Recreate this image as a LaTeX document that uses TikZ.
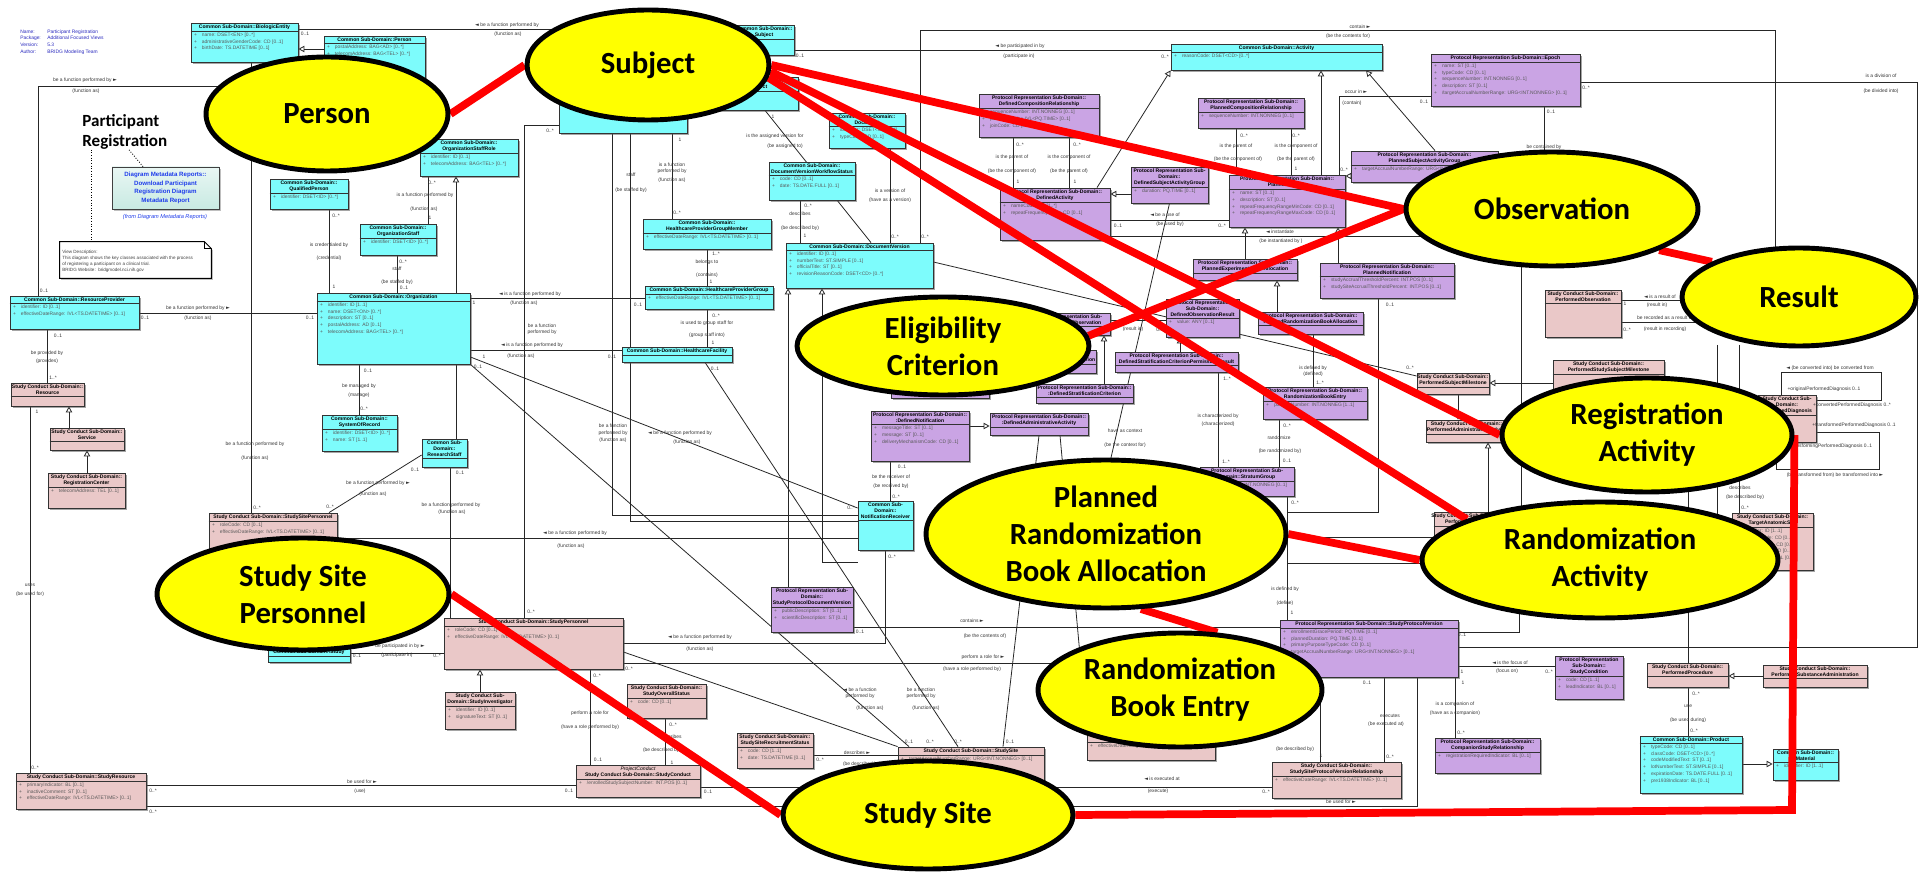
\documentclass[tikz,border=0pt]{standalone}
\usepackage{fontspec}
\setmainfont{Liberation Sans}
\newfontfamily\ellfont{Carlito}
\newfontfamily\flagfont{DejaVu Sans}
\usetikzlibrary{shapes.geometric,fit,shadows,arrows.meta}

\definecolor{clscyan}{RGB}{125,252,252}
\definecolor{clspurple}{RGB}{202,164,228}
\definecolor{clspink}{RGB}{234,200,200}
\definecolor{metablue}{RGB}{40,40,190}
\definecolor{linkblue}{RGB}{30,60,235}
\definecolor{linkfill}{RGB}{200,234,226}
\definecolor{ovalyellow}{RGB}{255,255,0}
\definecolor{hlred}{RGB}{255,0,0}

\pgfdeclarelayer{background}
\pgfdeclarelayer{wires}
\pgfdeclarelayer{redline}
\pgfdeclarelayer{front}
\pgfsetlayers{background,wires,main,redline,front}

\tikzset{
  cls/.style={draw=black!80, line width=0.45pt, inner sep=0pt,
    drop shadow={shadow xshift=0.9pt, shadow yshift=-0.9pt, opacity=0.5, fill=black!70}},
  cyancls/.style={cls, fill=clscyan},
  purplecls/.style={cls, fill=clspurple},
  pinkcls/.style={cls, fill=clspink},
  clstitle/.style={inner sep=0.8pt, align=center, font=\fontsize{2.9}{3.5}\selectfont\bfseries},
  clsattr/.style={inner xsep=1.8pt, inner ysep=0.8pt, align=left, text=black!65, font=\fontsize{2.8}{3.9}\selectfont},
  clsrule/.style={draw=black!80, line width=0.4pt},
  assoc/.style={draw=black!85, line width=0.45pt},
  gen/.style={assoc, -{Triangle[open, length=3.4pt, width=3.6pt]}},
  lbl/.style={inner sep=0pt, text=black!80, font=\fontsize{2.8}{3.2}\selectfont},
  oval/.style={ellipse, draw=black, line width=2.8pt, fill=ovalyellow, inner sep=0pt,
    align=center, font=\ellfont\bfseries\fontsize{17.5}{21}\selectfont},
  redlink/.style={draw=hlred, line width=4.4pt},
}

% one class box: name, corners (x1,y1) (x2,y2), style, title, attributes
\newcommand{\umlclass}[8]{%
  \node[#6, fit={(#2,#3) (#4,#5)}] (#1) {};
  \node[clstitle, anchor=north] (#1-t) at (#1.north) {#7};
  \draw[clsrule] (#1.west |- #1-t.south) -- (#1.east |- #1-t.south);
  \node[clsattr, anchor=north west] (#1-a) at (#1.west |- #1-t.south) {#8};}
\newcommand{\umlattr}[1]{+\hspace{0.1cm}#1}
\newcommand{\rolelbl}[4]{\node[lbl] (#1) at (#2,#3) {#4};}
\newcommand{\flagL}{{\flagfont ◄}}
\newcommand{\flagR}{{\flagfont ►}}

\begin{document}
\begin{tikzpicture}[x=0.02cm, y=-0.02cm]
\useasboundingbox (0,0) rectangle (1920,874);
\begin{pgfonlayer}{background}
  \fill[white] (0,0) rectangle (1920,874);
\end{pgfonlayer}

% diagram header
\node[anchor=north west, inner sep=0pt, text=metablue, font=\fontsize{2.8}{3.8}\selectfont] (meta) at (20,28)
  {\begin{tabular}{@{}p{0.54cm}@{}l@{}}Name: & Participant Registration\\ Package: & Additional Focused Views\\
   Version: & 5.3\\ Author: & BRIDG Modeling Team\end{tabular}};
\node[anchor=west, inner sep=0pt, align=left, font=\ellfont\bfseries\fontsize{9.7}{11.4}\selectfont] (prtitle) at (82,132) {Participant\\Registration};
\node[draw=black!75, line width=0.5pt, top color=linkfill!40!white, bottom color=linkfill, inner sep=0pt,
  fit={(112,167) (219,209)}, drop shadow={shadow xshift=0.9pt, shadow yshift=-0.9pt, opacity=0.5}] (linkbox) {};
\node[text=linkblue, align=center, font=\bfseries\fontsize{3.5}{5}\selectfont] (linktext) at (linkbox.center)
  {Diagram Metadata Reports::\\Download Participant\\Registration Diagram\\Metadata Report};
\node[text=linkblue, font=\itshape\fontsize{3.2}{4}\selectfont] (linkfrom) at (165,217) {(from Diagram Metadata Reports)};
\node[inner sep=0pt, fit={(60,242) (211,278)}] (viewnote) {};
\draw[fill=white, line width=0.5pt, drop shadow={shadow xshift=0.9pt, shadow yshift=-0.9pt, opacity=0.5}]
  (viewnote.south west) -- (viewnote.north west) -- ([xshift=-4pt]viewnote.north east)
  -- ([yshift=-4pt]viewnote.north east) -- (viewnote.south east) -- cycle;
\draw[line width=0.4pt] ([xshift=-4pt]viewnote.north east) -- ([xshift=-4pt, yshift=-4pt]viewnote.north east) -- ([yshift=-4pt]viewnote.north east);
\node[anchor=north west, inner sep=0pt, align=left, text=black!75, font=\fontsize{2.6}{3.4}\selectfont] (notetext) at (62,250)
  {View Description:\\This diagram shows the key classes associated with the process\\of registering a participant on a clinical trial.\\BRIDG Website:\ \ bridgmodel.nci.nih.gov};
\draw[densely dotted, line width=0.5pt] (prtitle.south -| 91,0) -- (viewnote.north -| 91,0);
\draw[densely dotted, line width=0.5pt] (prtitle.south -| 129,0) -- (linkbox.north -| 143,0);

% Common Sub-Domain
\umlclass{bioent}{191}{23}{298}{62}{cyancls}{Common Sub-Domain::BiologicEntity}{\umlattr{name: DSET<EN> [0..*]}\\ \umlattr{administrativeGenderCode: CD [0..1]}\\ \umlattr{birthDate: TS.DATETIME [0..1]}}
\umlclass{pers}{324}{36}{425}{86}{cyancls}{Common Sub-Domain::Person}{\umlattr{postalAddress: BAG<AD> [0..*]}\\ \umlattr{telecomAddress: BAG<TEL> [0..*]}}
\umlclass{qualpers}{270}{179}{348}{209}{cyancls}{Common Sub-Domain::\\QualifiedPerson}{\umlattr{identifier: DSET<ID> [0..*]}}
\umlclass{osr}{420}{139}{518}{176}{cyancls}{Common Sub-Domain::\\OrganizationStaffRole}{\umlattr{identifier: ID [0..1]}\\ \umlattr{telecomAddress: BAG<TEL> [0..*]}}
\umlclass{ostaff}{360}{224}{436}{255}{cyancls}{Common Sub-Domain::\\OrganizationStaff}{\umlattr{identifier: DSET<ID> [0..*]}}
\umlclass{org}{317}{293}{470}{364}{cyancls}{Common Sub-Domain::Organization}{\umlattr{identifier: ID [1..1]}\\ \umlattr{name: DSET<ON> [0..*]}\\ \umlattr{description: ST [0..1]}\\ \umlattr{postalAddress: AD [0..1]}\\ \umlattr{telecomAddress: BAG<TEL> [0..*]}}
\umlclass{sysrec}{322}{415}{397}{451}{cyancls}{Common Sub-Domain::\\SystemOfRecord}{\umlattr{identifier: DSET<ID> [0..*]}\\ \umlattr{name: ST [1..1]}}
\umlclass{rstaff}{422}{439}{467}{467}{cyancls}{Common Sub-\\Domain::\\ResearchStaff}{}
\umlclass{resprov}{10}{296}{139}{329}{cyancls}{Common Sub-Domain::ResourceProvider}{\umlattr{identifier: ID [0..1]}\\ \umlattr{effectiveDateRange: IVL<TS.DATETIME> [0..1]}}
\umlclass{subja}{559}{92}{687}{133}{cyancls}{}{\umlattr{}}
\umlclass{subjb}{734}{25}{794}{55}{cyancls}{Common Sub-Domain::\\Subject}{\umlattr{[0..1]}}
\umlclass{subjc}{718}{77}{798}{110}{cyancls}{Common Sub-Domain::\\Subject}{\umlattr{CD [0..1]}}
\umlclass{document}{829}{113}{905}{148}{cyancls}{Common Sub-Domain::\\Document}{\umlattr{identifier: DSET<ID> [1..*]}\\ \umlattr{typeCode: CD [0..1]}}
\umlclass{dvws}{769}{162}{855}{200}{cyancls}{Common Sub-Domain::\\DocumentVersionWorkflowStatus}{\umlattr{code: CD [0..1]}\\ \umlattr{date: TS.DATE.FULL [0..1]}}
\umlclass{hpgm}{643}{219}{771}{249}{cyancls}{Common Sub-Domain::\\HealthcareProviderGroupMember}{\umlattr{effectiveDateRange: IVL<TS.DATETIME> [0..1]}}
\umlclass{docver}{786}{243}{933}{288}{cyancls}{Common Sub-Domain::DocumentVersion}{\umlattr{identifier: ID [0..1]}\\ \umlattr{numberText: ST.SIMPLE [0..1]}\\ \umlattr{officialTitle: ST [0..1]}\\ \umlattr{revisionReasonCode: DSET<CD> [0..*]}}
\umlclass{hpg}{645}{286}{773}{309}{cyancls}{Common Sub-Domain::HealthcareProviderGroup}{\umlattr{effectiveDateRange: IVL<TS.DATETIME> [0..1]}}
\umlclass{hcf}{622}{347}{732}{362}{cyancls}{Common Sub-Domain::HealthcareFacility}{}
\umlclass{activity}{1171}{44}{1382}{70}{cyancls}{Common Sub-Domain::Activity}{\umlattr{reasonCode: DSET<CD> [0..*]}}
\umlclass{notifrcv}{858}{501}{913}{550}{cyancls}{Common Sub-\\Domain::\\NotificationReceiver}{}
\umlclass{study}{268}{648}{350}{662}{cyancls}{Common Sub-Domain::Study}{}
\umlclass{product}{1640}{736}{1742}{793}{cyancls}{Common Sub-Domain::Product}{\umlattr{typeCode: CD [0..1]}\\ \umlattr{classCode: DSET<CD> [0..*]}\\ \umlattr{codeModifiedText: ST [0..1]}\\ \umlattr{lotNumberText: ST.SIMPLE [0..1]}\\ \umlattr{expirationDate: TS.DATE.FULL [0..1]}\\ \umlattr{pre1938Indicator: BL [0..1]}}
\umlclass{material}{1773}{749}{1838}{780}{cyancls}{Common Sub-Domain::\\Material}{\umlattr{identifier: ID [1..1]}}

% Protocol Representation Sub-Domain
\umlclass{defcomp}{979}{94}{1099}{137}{purplecls}{Protocol Representation Sub-Domain::\\DefinedCompositionRelationship}{\umlattr{sequenceNumber: INT.NONNEG [0..1]}\\ \umlattr{pauseQuantity: IVL<PQ.TIME> [0..1]}\\ \umlattr{joinCode: CD [0..1]}}
\umlclass{plancomp}{1198}{98}{1304}{128}{purplecls}{Protocol Representation Sub-Domain::\\PlannedCompositionRelationship}{\umlattr{sequenceNumber: INT.NONNEG [0..1]}}
\umlclass{defact}{1000}{188}{1110}{240}{purplecls}{Protocol Representation Sub-Domain::\\DefinedActivity}{\umlattr{nameCode: CD [1..*]}\\ \umlattr{repeatFrequencyCode: CD [0..1]}}
\umlclass{defsag}{1131}{167}{1208}{203}{purplecls}{Protocol Representation Sub-\\Domain::\\DefinedSubjectActivityGroup}{\umlattr{duration: PQ.TIME [0..1]}}
\umlclass{planact}{1229}{175}{1345}{227}{purplecls}{Protocol Representation Sub-Domain::\\PlannedActivity}{\umlattr{name: ST [0..1]}\\ \umlattr{description: ST [0..1]}\\ \umlattr{repeatFrequencyRangeMinCode: CD [0..1]}\\ \umlattr{repeatFrequencyRangeMaxCode: CD [0..1]}}
\umlclass{plansag}{1351}{151}{1498}{182}{purplecls}{Protocol Representation Sub-Domain::\\PlannedSubjectActivityGroup}{\umlattr{targetAccrualNumberRange: URG<INT.NONNEG> [0..1]}}
\umlclass{epoch}{1431}{54}{1580}{106}{purplecls}{Protocol Representation Sub-Domain::Epoch}{\umlattr{name: ST [0..1]}\\ \umlattr{typeCode: CD [0..1]}\\ \umlattr{sequenceNumber: INT.NONNEG [0..1]}\\ \umlattr{description: ST [0..1]}\\ \umlattr{/targetAccrualNumberRange: URG<INT.NONNEG> [0..1]}}
\umlclass{plannotif}{1320}{263}{1454}{298}{purplecls}{Protocol Representation Sub-Domain::\\PlannedNotification}{\umlattr{studyAccrualThresholdPercent: INT.POS [0..1]}\\ \umlattr{studySiteAccrualThresholdPercent: INT.POS [0..1]}}
\umlclass{planeua}{1193}{259}{1297}{280}{purplecls}{Protocol Representation Sub-Domain::\\PlannedExperimentalUnitAllocation}{}
\umlclass{defobsres}{1166}{299}{1239}{337}{purplecls}{Protocol Representation\\Sub-Domain::\\DefinedObservationResult}{\umlattr{value: ANY [0..1]}}
\umlclass{planrba}{1258}{312}{1363}{334}{purplecls}{Protocol Representation Sub-Domain::\\PlannedRandomizationBookAllocation}{}
\umlclass{defobs}{1022}{313}{1110}{335}{purplecls}{Protocol Representation Sub-\\Domain::DefinedObservation}{}
\umlclass{defelig}{1010}{350}{1096}{373}{purplecls}{Protocol Representation Sub-\\Domain::DefinedEligibilityCriterion}{}
\umlclass{defscpr}{1115}{352}{1238}{372}{purplecls}{Protocol Representation Sub-Domain::\\DefinedStratificationCriterionPermissibleResult}{}
\umlclass{defsc}{1036}{384}{1133}{403}{purplecls}{Protocol Representation Sub-Domain::\\:DefinedStratificationCriterion}{}
\umlclass{defnotif}{871}{411}{969}{461}{purplecls}{Protocol Representation Sub-Domain::\\:DefinedNotification}{\umlattr{messageTitle: ST [0..1]}\\ \umlattr{message: ST [0..1]}\\ \umlattr{deliveryMechanismCode: CD [0..1]}}
\umlclass{defaa}{990}{413}{1088}{435}{purplecls}{Protocol Representation Sub-Domain::\\:DefinedAdministrativeActivity}{}
\umlclass{defhid}{891}{380}{989}{398}{purplecls}{}{}
\umlclass{rbebox}{1263}{387}{1367}{419}{purplecls}{Protocol Representation Sub-Domain::\\RandomizationBookEntry}{\umlattr{positionNumber: INT.NONNEG [1..1]}}
\umlclass{stratum}{1200}{467}{1294}{496}{purplecls}{Protocol Representation Sub-\\Domain::StratumGroup}{\umlattr{groupNumber: INT.NONNEG [0..1]}}
\umlclass{spv}{1280}{620}{1458}{677}{purplecls}{Protocol Representation Sub-Domain::StudyProtocolVersion}{\umlattr{enrollmentGracePeriod: PQ.TIME [0..1]}\\ \umlattr{plannedDuration: PQ.TIME [0..1]}\\ \umlattr{primaryPurposeTypeCode: CD [0..1]}\\ \umlattr{targetAccrualNumberRange: URG<INT.NONNEG> [0..1]}}
\umlclass{scond}{1555}{656}{1623}{699}{purplecls}{Protocol Representation\\Sub-Domain::\\StudyCondition}{\umlattr{code: CD [1..1]}\\ \umlattr{leadIndicator: BL [0..1]}}
\umlclass{compstudy}{1435}{738}{1540}{773}{purplecls}{Protocol Representation Sub-Domain::\\CompanionStudyRelationship}{\umlattr{registrationRequiredIndicator: BL [0..1]}}
\umlclass{spdv}{771}{587}{853}{632}{purplecls}{Protocol Representation Sub-\\Domain::\\StudyProtocolDocumentVersion}{\umlattr{publicDescription: ST [0..1]}\\ \umlattr{scientificDescription: ST [0..1]}}

% Study Conduct Sub-Domain
\umlclass{resource}{11}{383}{84}{406}{pinkcls}{Study Conduct Sub-Domain::\\Resource}{}
\umlclass{service}{50}{428}{124}{450}{pinkcls}{Study Conduct Sub-Domain::\\Service}{}
\umlclass{regcenter}{48}{473}{125}{508}{pinkcls}{Study Conduct Sub-Domain::\\RegistrationCenter}{\umlattr{telecomAddress: TEL [0..1]}}
\umlclass{sspers}{209}{513}{337}{560}{pinkcls}{Study Conduct Sub-Domain::StudySitePersonnel}{\umlattr{roleCode: CD [0..1]}\\ \umlattr{effectiveDateRange: IVL<TS.DATETIME> [0..1]}}
\umlclass{spers}{444}{618}{623}{669}{pinkcls}{Study Conduct Sub-Domain::StudyPersonnel}{\umlattr{roleCode: CD [0..1]}\\ \umlattr{effectiveDateRange: IVL<TS.DATETIME> [0..1]}}
\umlclass{sinv}{445}{692}{515}{729}{pinkcls}{Study Conduct Sub-\\Domain::StudyInvestigator}{\umlattr{identifier: ID [0..1]}\\ \umlattr{signatureText: ST [0..1]}}
\umlclass{sres}{16}{773}{146}{809}{pinkcls}{Study Conduct Sub-Domain::StudyResource}{\umlattr{primaryIndicator: BL [0..1]}\\ \umlattr{inactiveComment: ST [0..1]}\\ \umlattr{effectiveDateRange: IVL<TS.DATETIME> [0..1]}}
\umlclass{sconduct}{576}{765}{700}{797}{pinkcls}{{\mdseries\itshape ProjectConduct}\\Study Conduct Sub-Domain::StudyConduct}{\umlattr{/enrolledStudySubjectNumber: INT.POS [0..1]}}
\umlclass{sos}{627}{684}{706}{718}{pinkcls}{Study Conduct Sub-Domain::\\StudyOverallStatus}{\umlattr{code: CD [0..1]}}
\umlclass{ssrs}{737}{733}{813}{768}{pinkcls}{Study Conduct Sub-Domain::\\StudySiteRecruitmentStatus}{\umlattr{code: CD [1..1]}\\ \umlattr{date: TS.DATETIME [0..1]}}
\umlclass{ssite}{898}{747}{1044}{788}{pinkcls}{Study Conduct Sub-Domain::StudySite}{\umlattr{targetAccrualNumberRange: URG<INT.NONNEG> [0..1]}}
\umlclass{ssubpvr}{1087}{728}{1215}{760}{pinkcls}{Study Conduct Sub-Domain::\\StudySubjectProtocolVersionRelationship}{\umlattr{effectiveDateRange: IVL<TS.DATETIME> [0..1]}}
\umlclass{sspvr}{1272}{762}{1401}{798}{pinkcls}{Study Conduct Sub-Domain::\\StudySiteProtocolVersionRelationship}{\umlattr{effectiveDateRange: IVL<TS.DATETIME> [0..1]}}
\umlclass{psm}{1417}{373}{1489}{394}{pinkcls}{Study Conduct Sub-Domain::\\PerformedSubjectMilestone}{}
\umlclass{paa}{1426}{420}{1507}{442}{pinkcls}{Study Conduct Sub-Domain::\\PerformedAdministrativeActivity}{}
\umlclass{pssm}{1553}{360}{1664}{392}{pinkcls}{Study Conduct Sub-Domain::\\PerformedStudySubjectMilestone}{}
\umlclass{pact}{1434}{512}{1500}{540}{pinkcls}{Study Conduct Sub-Domain::\\PerformedActivity}{}
\umlclass{pobs}{1545}{290}{1621}{337}{pinkcls}{Study Conduct Sub-Domain::\\PerformedObservation}{}
\umlclass{pdiag}{1758}{395}{1816}{442}{pinkcls}{Study Conduct Sub-\\Domain::\\PerformedDiagnosis}{}
\umlclass{tas}{1732}{513}{1813}{570}{pinkcls}{Study Conduct Sub-Domain::\\TargetAnatomicSite}{\umlattr{identifier: ID [1..1]}\\ \umlattr{locationCode: CD [0..1]}\\ \umlattr{lateralityCode: CD [0..1]}\\ \umlattr{methodCode: CD [0..1]}\\ \umlattr{targetIndicator: BL [0..1]}}
\umlclass{pproc}{1647}{663}{1728}{687}{pinkcls}{Study Conduct Sub-Domain::\\PerformedProcedure}{}
\umlclass{psubadm}{1763}{665}{1867}{687}{pinkcls}{Study Conduct Sub-Domain::\\PerformedSubstanceAdministration}{}

% free ends of connectors
\coordinate (contend) at (1775,250);
\coordinate (rightframe) at (1917,82);
\coordinate (epochend) at (1544,165);
\coordinate (instend) at (1430,236);
\coordinate (stratumjoin) at (1287,512);
\coordinate (sgline1) at (1287,537);
\coordinate (sgline2) at (1287,563);
\coordinate (resA) at (1700,300);
\coordinate (resB) at (1705,322);
\coordinate (procup) at (1688,460);
\coordinate (spvup) at (1519,600);
\coordinate (tasup) at (1739,345);
\coordinate (vertA) at (1717,345);
\coordinate (vertB) at (1521,182);
\coordinate (dgA) at (1881,372);
\coordinate (dgB) at (1879,469);
\coordinate (ctxend) at (1110,462);

\begin{pgfonlayer}{wires}
  \draw[assoc] (bioent.east |- 0,29) -- (subjb.west |- 0,29);
  \draw[gen] (pers.west |- 0,49) -- (bioent.east |- 0,49);
  \draw[assoc] (resprov.north -| 38,0) |- (pers.south west);
  \draw[assoc] (bioent.south -| 251,0) -- (sspers.north -| 251,0);
  \draw[assoc] (resprov.east |- 0,313) -- (org.west |- 0,313);
  \draw[assoc] (resprov.south -| 47,0) -- (resource.north -| 47,0);
  \draw[gen] (service.north -| 69,0) -- (resource.south -| 69,0);
  \draw[gen] (regcenter.north -| 87,0) -- (service.south -| 87,0);
  \draw[assoc] (resource.south -| 30,0) -- (sres.north -| 30,0);
  \draw[assoc] (sres.east |- 0,785) -- (sconduct.west |- 0,785);
  \draw[assoc] (sres.east |- 0,806) -| (spv.south -| 1417,0);
  \draw[assoc] (org.south -| 359,0) -- (sysrec.north -| 359,0);
  \draw[assoc] (ostaff.south -| 397,0) -- (org.north -| 397,0);
  \draw[assoc] (ostaff.north -| 428,0) -- (osr.south -| 428,0);
  \draw[assoc] (qualpers.south -| 329,0) -- (org.north -| 329,0);
  \draw[gen] (rstaff.north -| 456,0) -- (osr.south -| 456,0);
  \draw[assoc] (rstaff.west |- 0,455) -- (sspers.north -| 329,0);
  \draw[assoc] (rstaff.south -| 450,0) -- (spers.north -| 450,0);
  \draw[assoc] (sspers.east |- 0,538) -- (notifrcv.west |- 0,538);
  \draw[assoc] (org.east |- 0,298) -- (hpg.west |- 0,298);
  \draw[assoc] (org.east |- 0,350) -- (hcf.west |- 0,350);
  \draw[assoc] (org.south east |- 0,357) -- (notifrcv.west |- 0,508);
  \draw[assoc] (org.south east) -- (ssite.north -| 909,0);
  \draw[assoc] (subja.west |- 0,125) -| (spers.north -| 524,0);
  \draw[assoc] (subja.south -| 612,0) |- (notifrcv.west |- 0,515);
  \draw[assoc] (subja.south -| 630,0) |- (notifrcv.west |- 0,521);
  \draw[assoc] (subja.south -| 672,0) -- (hpgm.north -| 672,0);
  \draw[assoc] (hpgm.south -| 707,0) -- (hpg.north -| 707,0);
  \draw[assoc] (hpg.south -| 707,0) -- (hcf.north -| 707,0);
  \draw[assoc] (hcf.south -| 705,0) -- (ssite.north -| 958,0);
  \draw[assoc] (subjc.south -| 765,0) -- (docver.north -| 871,0);
  \draw[assoc] (document.south -| 890,0) -- (docver.north -| 890,0);
  \draw[assoc] (dvws.south -| 800,0) -- (docver.north -| 800,0);
  \draw[assoc] (docver.north -| 920,0) -- ++(0,-212) -| (contend);
  \draw[gen] (spdv.north -| 788,0) -- (docver.south -| 788,0);
  \draw[gen] (notifrcv.south west |- 0,562) -| (docver.south -| 822,0);
  \draw[assoc] (defnotif.south -| 890,0) -- (notifrcv.north -| 890,0);
  \draw[gen] (defnotif.east |- 0,426) -- (defaa.west |- 0,426);
  \draw[assoc] (notifrcv.south -| 885,0) |- (spers.east |- 0,643);
  \draw[assoc] (study.east |- 0,653) -- (spers.west |- 0,653);
  \draw[gen] (sinv.north -| 480,0) -- (spers.south -| 480,0);
  \draw[assoc] (spers.south -| 590,0) -- (sconduct.north -| 590,0);
  \draw[assoc] (spers.east |- 0,663) -- (spv.west |- 0,663);
  \draw[assoc] (spers.east |- 0,652) -- (ssite.north west);
  \draw[assoc] (spdv.east |- 0,627) -- (spv.west |- 0,627);
  \draw[assoc] (sconduct.east |- 0,787) -- (sspvr.west |- 0,787);
  \draw[assoc] (ssrs.east |- 0,755) -- (ssite.west |- 0,755);
  \draw[assoc] (sos.south -| 665,0) -- (sconduct.north -| 665,0);
  \draw[assoc] (defaa.south) -- (ssite.north -| 1003,0);
  \draw[assoc] (defaa.south -| 1060,0) -- (ssubpvr.north west);
  \draw[assoc] (subjb.east |- 0,50) -- (activity.west |- 0,50);
  \draw[assoc] (defcomp.south -| 1013,0) -- (defact.north -| 1013,0);
  \draw[assoc] (defcomp.south -| 1069,0) -- (defact.north -| 1069,0);
  \draw[assoc] (plancomp.south -| 1236,0) -- (planact.north -| 1236,0);
  \draw[assoc] (plancomp.south -| 1291,0) -- (planact.north -| 1291,0);
  \draw[gen] (defsag.west |- 0,194) -- (defact.east |- 0,194);
  \draw[gen] (plansag.west |- 0,176) -- (planact.east |- 0,176);
  \draw[assoc] (defact.east |- 0,220) -- (planact.west |- 0,220);
  \draw[assoc] (defact.east |- 0,236) -- (instend);
  \draw[gen] (defact.north -| 1097,0) -- (activity.south west);
  \draw[gen] (plansag.north -| 1435,0) -- (activity.south -| 1366,0);
  \draw[gen] (planact.north -| 1321,0) -- (activity.south -| 1321,0);
  \draw[assoc] (epoch.west |- 0,96) -| (planact.north east -| 1339,0);
  \draw[assoc] (epoch.south -| 1544,0) -- (epochend);
  \draw[assoc] (epoch.east |- 0,82) -- (rightframe) |- (spv.east |- 0,647);
  \draw[gen] (planeua.north -| 1245,0) -- (planact.south -| 1245,0);
  \draw[gen] (plannotif.north -| 1338,0) -- (planact.south -| 1338,0);
  \draw[gen] (planrba.north -| 1277,0) -- (planeua.south -| 1277,0);
  \draw[gen] (defscpr.north -| 1180,0) -- (defobsres.south -| 1180,0);
  \draw[gen] (defsc.north -| 1104,0) -- (defobs.south -| 1104,0);
  \draw[assoc] (defobs.east |- 0,320) -- (defobsres.west |- 0,320);
  \draw[assoc] (ctxend) -- (defsag.south);
  \draw[assoc] (rbebox.north -| 1313,0) -- (planrba.south -| 1313,0);
  \draw[assoc] (rbebox.south -| 1279,0) -- (stratum.north -| 1279,0);
  \draw[assoc] (defscpr.south -| 1218,0) -- (stratum.north -| 1218,0);
  \draw[assoc] (stratum.south -| 1287,0) -- (spv.north -| 1287,0);
  \draw[assoc] (plannotif.south -| 1378,0) |- (stratumjoin);
  \draw[assoc] (sgline1) -- (pact.west |- sgline1);
  \draw[assoc] (sgline2) -- (pact.south west |- sgline2);
  \draw[assoc] (docver.east |- 0,262) -- (psm.west |- 0,376);
  \draw[gen] (psm.south -| 1458,0) -- (paa.north -| 1458,0);
  \draw[gen] (pact.north -| 1488,0) -- (paa.south -| 1488,0);
  \draw[gen] (pssm.west |- 0,383) -- (psm.east |- 0,383);
  \draw[assoc] (vertB) -- (pact.north -| 1521,0);
  \draw[assoc] (pobs.east |- 0,300) -- (resA);
  \draw[assoc] (pobs.east |- 0,322) -- (resB);
  \draw[assoc] (procup) -- (pproc.north -| 1688,0);
  \draw[gen] (psubadm.west |- 0,676) -- (pproc.east |- 0,676);
  \draw[assoc] (pproc.south -| 1688,0) -- (product.north -| 1688,0);
  \draw[gen] (product.east |- 0,764) -- (material.west |- 0,764);
  \draw[assoc] (spv.south -| 1455,0) -- (compstudy.north -| 1455,0);
  \draw[assoc] (spv.east |- 0,666) -- (scond.west |- 0,666);
  \draw[assoc] (spv.east |- 0,632) -| (spvup);
  \draw[assoc] (spv.south -| 1320,0) -- (sspvr.north -| 1320,0);
  \draw[assoc] (spv.south -| 1384,0) -- (sspvr.north -| 1384,0);
  \draw[assoc] (pdiag.north -| 1781,0) |- (dgA) |- (pdiag.east |- 0,400);
  \draw[assoc] (pdiag.east |- 0,432) -| (dgB) -| (pdiag.south -| 1776,0);
  \draw[assoc] (tasup) -- (tas.north -| 1739,0);
  \draw[assoc] (vertA) -- (tas.west -| 1717,0);
\end{pgfonlayer}

% role names and multiplicities
\rolelbl{r1}{507}{25}{\flagL\ be a function performed by}
\rolelbl{r2}{508}{34}{(function as)}
\rolelbl{r3}{305}{34}{0..1}
\rolelbl{r4}{85}{80}{be a function performed by \flagR}
\rolelbl{r5}{86}{91}{(function as)}
\rolelbl{r6}{44}{291}{0..1}
\rolelbl{r7}{255}{444}{be a function performed by}
\rolelbl{r8}{255}{458}{(function as)}
\rolelbl{r9}{257}{508}{0..*}
\rolelbl{r10}{198}{308}{be a function performed by \flagR}
\rolelbl{r11}{198}{318}{(function as)}
\rolelbl{r12}{145}{318}{0..1}
\rolelbl{r13}{310}{318}{0..1}
\rolelbl{r14}{58}{336}{0..1}
\rolelbl{r15}{47}{353}{be provided by}
\rolelbl{r16}{47}{361}{(provides)}
\rolelbl{r17}{53}{378}{1..*}
\rolelbl{r18}{37}{412}{1}
\rolelbl{r19}{30}{585}{uses}
\rolelbl{r20}{30}{594}{(be used for)}
\rolelbl{r21}{35}{768}{0..*}
\rolelbl{r22}{362}{782}{be used for \flagR}
\rolelbl{r23}{360}{791}{(use)}
\rolelbl{r24}{153}{791}{0..*}
\rolelbl{r25}{569}{791}{0..1}
\rolelbl{r26}{153}{812}{0..*}
\rolelbl{r27}{1341}{802}{be used for \flagR}
\rolelbl{r28}{368}{371}{0..1}
\rolelbl{r29}{359}{386}{be managed by}
\rolelbl{r30}{359}{395}{(manage)}
\rolelbl{r31}{364}{409}{0..*}
\rolelbl{r32}{403}{262}{0..*}
\rolelbl{r33}{397}{269}{staff}
\rolelbl{r34}{397}{282}{(be staffed by)}
\rolelbl{r35}{404}{288}{0..1}
\rolelbl{r36}{432}{183}{0..*}
\rolelbl{r37}{425}{195}{is a function performed by}
\rolelbl{r38}{424}{209}{(function as)}
\rolelbl{r39}{430}{218}{1}
\rolelbl{r40}{336}{216}{0..*}
\rolelbl{r41}{329}{245}{is credentialed by}
\rolelbl{r42}{329}{258}{(credential)}
\rolelbl{r43}{334}{287}{1}
\rolelbl{r44}{415}{470}{0..1}
\rolelbl{r45}{378}{483}{be a function performed by \flagR}
\rolelbl{r46}{373}{494}{(function as)}
\rolelbl{r47}{330}{507}{0..*}
\rolelbl{r48}{460}{473}{0..1}
\rolelbl{r49}{451}{505}{be a function performed by}
\rolelbl{r50}{452}{512}{(function as)}
\rolelbl{r51}{575}{533}{\flagL\ be a function performed by}
\rolelbl{r52}{571}{546}{(function as)}
\rolelbl{r53}{530}{294}{\flagL\ is a function performed by}
\rolelbl{r54}{524}{303}{(function as)}
\rolelbl{r55}{474}{303}{1}
\rolelbl{r56}{638}{305}{0..1}
\rolelbl{r57}{532}{345}{\flagL\ is a function performed by}
\rolelbl{r58}{521}{356}{(function as)}
\rolelbl{r59}{484}{357}{1}
\rolelbl{r60}{612}{357}{0..1}
\rolelbl{r61}{542}{326}{be a function}
\rolelbl{r62}{542}{332}{performed by}
\rolelbl{r63}{680}{433}{\flagL\ be a function performed by}
\rolelbl{r64}{687}{442}{(function as)}
\rolelbl{r65}{478}{367}{0..1}
\rolelbl{r66}{613}{426}{be a function}
\rolelbl{r67}{613}{433}{performed by}
\rolelbl{r68}{613}{440}{(function as)}
\rolelbl{r69}{550}{131}{0..*}
\rolelbl{r70}{531}{612}{0..*}
\rolelbl{r71}{631}{175}{staff}
\rolelbl{r72}{631}{190}{(be staffed by)}
\rolelbl{r73}{680}{140}{1}
\rolelbl{r74}{672}{165}{is a function}
\rolelbl{r75}{672}{171}{performed by}
\rolelbl{r76}{672}{180}{(function as)}
\rolelbl{r77}{677}{213}{0..*}
\rolelbl{r78}{716}{254}{1..*}
\rolelbl{r79}{707}{262}{belongs to}
\rolelbl{r80}{707}{275}{(contains)}
\rolelbl{r81}{711}{282}{1}
\rolelbl{r82}{716}{316}{0..*}
\rolelbl{r83}{707}{323}{is used to group staff for}
\rolelbl{r84}{707}{335}{(group staff into)}
\rolelbl{r85}{713}{343}{1}
\rolelbl{r86}{715}{369}{0..1}
\rolelbl{r87}{773}{117}{1}
\rolelbl{r88}{775}{136}{is the assigned version for}
\rolelbl{r89}{785}{146}{(be assigned to)}
\rolelbl{r90}{890}{191}{is a version of}
\rolelbl{r91}{890}{200}{(have as a version)}
\rolelbl{r92}{895}{237}{0..*}
\rolelbl{r93}{808}{206}{0..*}
\rolelbl{r94}{800}{214}{describes}
\rolelbl{r95}{800}{228}{(be described by)}
\rolelbl{r96}{805}{236}{1}
\rolelbl{r97}{1360}{27}{contain \flagR}
\rolelbl{r98}{1348}{36}{(be the contents for)}
\rolelbl{r99}{925}{237}{0..*}
\rolelbl{r100}{902}{467}{0..1}
\rolelbl{r101}{891}{477}{be the receiver of}
\rolelbl{r102}{891}{486}{(be received by)}
\rolelbl{r103}{896}{497}{0..*}
\rolelbl{r104}{851}{508}{0..*}
\rolelbl{r105}{892}{557}{0..*}
\rolelbl{r106}{700}{637}{\flagL\ be a function performed by}
\rolelbl{r107}{700}{649}{(function as)}
\rolelbl{r108}{400}{646}{be participated in by \flagR}
\rolelbl{r109}{397}{655}{(participate in)}
\rolelbl{r110}{357}{656}{0..1}
\rolelbl{r111}{437}{656}{0..*}
\rolelbl{r112}{597}{676}{0..*}
\rolelbl{r113}{590}{713}{perform a role for}
\rolelbl{r114}{590}{727}{(have a role performed by)}
\rolelbl{r115}{598}{760}{0..1}
\rolelbl{r116}{983}{657}{perform a role for \flagR}
\rolelbl{r117}{972}{669}{(have a role performed by)}
\rolelbl{r118}{629}{669}{0..*}
\rolelbl{r119}{972}{621}{contains \flagR}
\rolelbl{r120}{985}{636}{(be the contents of)}
\rolelbl{r121}{860}{632}{0..1}
\rolelbl{r122}{1162}{779}{\flagL\ is executed at}
\rolelbl{r123}{1158}{791}{(execute)}
\rolelbl{r124}{708}{792}{0..1}
\rolelbl{r125}{1266}{792}{0..*}
\rolelbl{r126}{857}{753}{describes \flagR}
\rolelbl{r127}{862}{764}{(be described by)}
\rolelbl{r128}{820}{760}{0..*}
\rolelbl{r129}{673}{725}{0..*}
\rolelbl{r130}{671}{737}{describes}
\rolelbl{r131}{662}{750}{(be described by)}
\rolelbl{r132}{672}{763}{1}
\rolelbl{r133}{860}{690}{\flagL\ be a function}
\rolelbl{r134}{860}{696}{performed by}
\rolelbl{r135}{870}{708}{(function as)}
\rolelbl{r136}{921}{690}{be a function}
\rolelbl{r137}{921}{696}{performed by}
\rolelbl{r138}{926}{708}{(function as)}
\rolelbl{r139}{909}{742}{0..1}
\rolelbl{r140}{930}{742}{0..*}
\rolelbl{r141}{958}{742}{0..*}
\rolelbl{r142}{1010}{742}{0..1}
\rolelbl{r143}{1020}{46}{\flagL\ be participated in by}
\rolelbl{r144}{1019}{56}{(participate in)}
\rolelbl{r145}{800}{56}{0..1}
\rolelbl{r146}{1165}{57}{0..*}
\rolelbl{r147}{1020}{145}{0..*}
\rolelbl{r148}{1012}{157}{is the parent of}
\rolelbl{r149}{1012}{171}{(be the component of)}
\rolelbl{r150}{1018}{182}{1}
\rolelbl{r151}{1077}{145}{0..*}
\rolelbl{r152}{1069}{157}{is the component of}
\rolelbl{r153}{1069}{171}{(be the parent of)}
\rolelbl{r154}{1075}{182}{1}
\rolelbl{r155}{1244}{136}{0..*}
\rolelbl{r156}{1236}{146}{is the parent of}
\rolelbl{r157}{1238}{159}{(be the component of)}
\rolelbl{r158}{1296}{136}{0..*}
\rolelbl{r159}{1296}{146}{is the component of}
\rolelbl{r160}{1296}{159}{(be the parent of)}
\rolelbl{r161}{1296}{169}{1}
\rolelbl{r162}{1165}{215}{\flagL\ be a use of}
\rolelbl{r163}{1170}{224}{(be used by)}
\rolelbl{r164}{1118}{226}{0..1}
\rolelbl{r165}{1222}{226}{0..*}
\rolelbl{r166}{1280}{232}{\flagL\ instantiate}
\rolelbl{r167}{1281}{241}{(be instantiated by )}
\rolelbl{r168}{1356}{92}{occur in \flagR}
\rolelbl{r169}{1352}{103}{(contain)}
\rolelbl{r170}{1424}{102}{0..1}
\rolelbl{r171}{1344}{170}{0..*}
\rolelbl{r172}{1551}{112}{0..1}
\rolelbl{r173}{1544}{147}{be contained by}
\rolelbl{r174}{1881}{76}{is a division of}
\rolelbl{r175}{1881}{91}{(be divided into)}
\rolelbl{r176}{1586}{88}{0..*}
\rolelbl{r177}{1133}{329}{(result in)}
\rolelbl{r178}{1160}{330}{0..*}
\rolelbl{r179}{1125}{431}{have as context}
\rolelbl{r180}{1125}{445}{(be the context for)}
\rolelbl{r181}{1313}{368}{is defined by}
\rolelbl{r182}{1313}{374}{(defined)}
\rolelbl{r183}{1320}{383}{1..*}
\rolelbl{r184}{1287}{426}{0..*}
\rolelbl{r185}{1279}{438}{randomize}
\rolelbl{r186}{1280}{451}{(be randomized by)}
\rolelbl{r187}{1287}{461}{0..1}
\rolelbl{r188}{1227}{379}{1..*}
\rolelbl{r189}{1218}{416}{is characterized by}
\rolelbl{r190}{1218}{424}{(characterized)}
\rolelbl{r191}{1226}{462}{1..*}
\rolelbl{r192}{1295}{503}{0..*}
\rolelbl{r193}{1285}{589}{is defined by}
\rolelbl{r194}{1285}{603}{(define)}
\rolelbl{r195}{1292}{613}{1}
\rolelbl{r196}{1390}{305}{0..1}
\rolelbl{r197}{1410}{368}{0..*}
\rolelbl{r198}{1660}{297}{\flagL\ is a result of}
\rolelbl{r199}{1657}{305}{(result in)}
\rolelbl{r200}{1625}{304}{1}
\rolelbl{r201}{1665}{318}{be recorded as a result of}
\rolelbl{r202}{1665}{329}{(result in recording)}
\rolelbl{r203}{1627}{330}{0..*}
\rolelbl{r204}{1696}{694}{0..*}
\rolelbl{r205}{1688}{706}{use}
\rolelbl{r206}{1688}{720}{(be used during)}
\rolelbl{r207}{1694}{731}{0..*}
\rolelbl{r208}{1463}{683}{1}
\rolelbl{r209}{1455}{704}{is a companion of}
\rolelbl{r210}{1455}{713}{(have as a companion)}
\rolelbl{r211}{1461}{733}{0..*}
\rolelbl{r212}{1510}{663}{\flagL\ is the focus of}
\rolelbl{r213}{1507}{671}{(focus on)}
\rolelbl{r214}{1462}{672}{1}
\rolelbl{r215}{1549}{672}{0..*}
\rolelbl{r216}{1462}{635}{0..1}
\rolelbl{r217}{1295}{749}{(be described by)}
\rolelbl{r218}{1321}{756}{1}
\rolelbl{r219}{1390}{716}{executes}
\rolelbl{r220}{1386}{724}{(be executed at)}
\rolelbl{r221}{1390}{757}{0..*}
\rolelbl{r222}{1367}{683}{0..1}
\rolelbl{r223}{1830}{368}{\flagL\ (be converted into) be converted from}
\rolelbl{r224}{1824}{389}{+originalPerformedDiagnosis 0..1}
\rolelbl{r225}{1852}{405}{+convertedPerformedDiagnosis 0..*}
\rolelbl{r226}{1854}{425}{+transformedPerformedDiagnosis 0..1}
\rolelbl{r227}{1830}{446}{+transformingPerformedDiagnosis 0..1}
\rolelbl{r228}{1835}{475}{(be transformed from) be transformed into \flagR}
\rolelbl{r229}{1740}{488}{describes}
\rolelbl{r230}{1745}{497}{(be described by)}
\rolelbl{r231}{1745}{508}{0..*}

% highlighted concepts
\begin{pgfonlayer}{front}
  \node[oval, minimum width=4.84cm, minimum height=2.28cm] (person) at (327,114) {Person};
  \node[oval, minimum width=4.84cm, minimum height=2.2cm] (subject) at (648,65) {Subject};
  \node[oval, minimum width=5.84cm, minimum height=2.28cm] (observation) at (1552,209) {Observation};
  \node[oval, minimum width=4.68cm, minimum height=1.96cm] (result) at (1799,297) {Result};
  \node[oval, minimum width=5.84cm, minimum height=1.96cm] (eligibility) at (943,346) {Eligibility\\Criterion};
  \node[oval, minimum width=7.2cm, minimum height=2.96cm] (planned) at (1106,534) {Planned\\Randomization\\Book Allocation};
  \node[oval, minimum width=5.8cm, minimum height=2.28cm] (registration) at (1647,435) {Registration\\Activity};
  \node[oval, minimum width=7.12cm, minimum height=2.32cm] (randact) at (1600,560) {Randomization\\Activity};
  \node[oval, minimum width=5.84cm, minimum height=2.24cm] (ssp) at (303,594) {Study Site\\Personnel};
  \node[oval, minimum width=5.68cm, minimum height=2.28cm] (rbe) at (1180,690) {Randomization\\Book Entry};
  \node[oval, minimum width=5.8cm, minimum height=2.16cm] (studysite) at (928,815) {Study Site};
\end{pgfonlayer}

\coordinate (redturn) at (1792,810);
\begin{pgfonlayer}{redline}
  \draw[redlink] (person.east) -- (subject.west);
  \draw[redlink] (subject.east) -- (observation.west);
  \draw[redlink] (subject.-3) -- (registration.west);
  \draw[redlink] (subject.-6) -- (randact.163);
  \draw[redlink] (eligibility.4) -- (observation.west);
  \draw[redlink] (observation.-21) -- (result.158);
  \draw[redlink] (planned.east) -- (randact.west);
  \draw[redlink] (planned.-65) -- (rbe.57);
  \draw[redlink] (ssp.east) -- (studysite.west);
  \draw[redlink, line join=miter] (studysite.east) -- (redturn) -- (registration.east);
\end{pgfonlayer}
\end{tikzpicture}
\end{document}
